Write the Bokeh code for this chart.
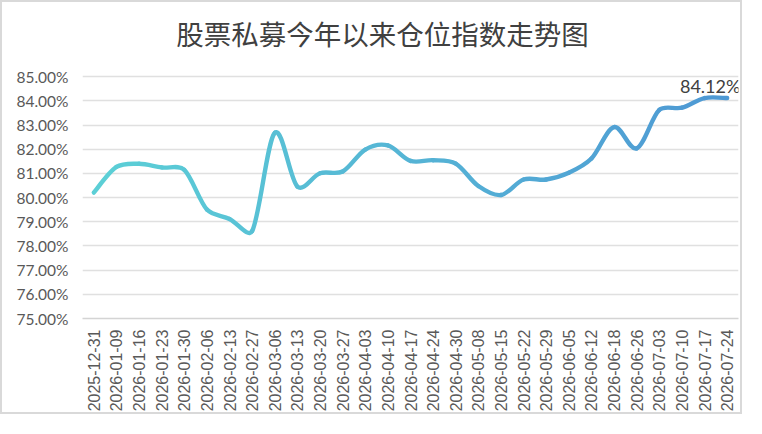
import numpy as np
from bokeh.plotting import figure
from bokeh.models import FixedTicker, Label, Range1d
from bokeh.embed import file_html
from bokeh.resources import INLINE

# ---------------- data ----------------
title_text = "股票私募今年以来仓位指数走势图"
dates = [
    "2025-12-31", "2026-01-09", "2026-01-16", "2026-01-23", "2026-01-30",
    "2026-02-06", "2026-02-13", "2026-02-27", "2026-03-06", "2026-03-13",
    "2026-03-20", "2026-03-27", "2026-04-03", "2026-04-10", "2026-04-17",
    "2026-04-24", "2026-04-30", "2026-05-08", "2026-05-15", "2026-05-22",
    "2026-05-29", "2026-06-05", "2026-06-12", "2026-06-18", "2026-06-26",
    "2026-07-03", "2026-07-10", "2026-07-17", "2026-07-24",
]
position_index = [
    80.21, 81.27, 81.40, 81.25, 81.15,
    79.51, 79.12, 78.62, 82.68, 80.46,
    81.01, 81.08, 81.99, 82.16, 81.52,
    81.55, 81.41, 80.48, 80.11, 80.75,
    80.75, 81.03, 81.62, 82.92, 82.04,
    83.63, 83.72, 84.12, 84.12,
]
y_ticks = [75, 76, 77, 78, 79, 80, 81, 82, 83, 84, 85]
y_tick_labels = ["%.2f%%" % v for v in y_ticks]

# ---------------- layout ----------------
n = len(dates)
FRAME_W = 656
FRAME_H = 306
PX_PER_PCT = 24.17
PX_PER_CAT = FRAME_W / n
y_top = 75 + FRAME_H / PX_PER_PCT

p = figure(
    width=742, height=414,
    x_range=Range1d(-0.5, n - 0.5), y_range=Range1d(75, y_top),
    output_backend="svg", toolbar_location=None,
    min_border_left=80, min_border_right=6,
    min_border_top=10, min_border_bottom=98,
)
p.styles = {"border": "2px solid #D9D9D9"}
p.outline_line_color = None
p.background_fill_color = "white"
p.border_fill_color = "white"

# smoothed line (Excel-like bezier smoothing, computed in screen proportions)
xs = np.arange(n, dtype=float)
ys = np.array(position_index, dtype=float)
sx = xs * PX_PER_CAT
sy = ys * PX_PER_PCT
PX = np.concatenate([[sx[0]], sx, [sx[-1]]])
PY = np.concatenate([[sy[0]], sy, [sy[-1]]])
tx = PX[2:] - PX[:-2]
ty = PY[2:] - PY[:-2]
tn = np.hypot(tx, ty)
ux, uy = tx / tn, ty / tn
seg = np.hypot(np.diff(sx), np.diff(sy))
arm0 = np.minimum(seg / 3.0, tn[:-1] / 6.0)
arm1 = np.minimum(seg / 3.0, tn[1:] / 6.0)
cx0 = (sx[:-1] + ux[:-1] * arm0) / PX_PER_CAT
cy0 = (sy[:-1] + uy[:-1] * arm0) / PX_PER_PCT
cx1 = (sx[1:] - ux[1:] * arm1) / PX_PER_CAT
cy1 = (sy[1:] - uy[1:] * arm1) / PX_PER_PCT
x0, y0 = xs[:-1], ys[:-1]
x1, y1 = xs[1:], ys[1:]

c_start = np.array([92, 208, 214])
c_end = np.array([78, 152, 212])
colors = []
for i in range(n - 1):
    t = ((x0[i] + x1[i]) / 2.0) / (n - 1)
    c = (c_start + (c_end - c_start) * t).round().astype(int)
    colors.append("#%02x%02x%02x" % tuple(c))

p.bezier(x0=x0, y0=y0, x1=x1, y1=y1, cx0=cx0, cy0=cy0, cx1=cx1, cy1=cy1,
         line_color=colors, line_width=4.4, line_cap="round")

# last value label
p.add_layout(Label(x=xs[-1], y=ys[-1], text="%.2f%%" % ys[-1],
                   x_offset=-17, y_offset=12, text_align="center",
                   text_baseline="alphabetic", text_font="Lato",
                   text_font_size="18px", text_color="#404040"))

# title
p.add_layout(Label(x=12.76, y=86.82, text=title_text, text_align="center",
                   text_baseline="middle", text_font="Noto Sans CJK SC",
                   text_font_size="27.5px", text_color="#404040"))

# axes
p.xaxis.ticker = FixedTicker(ticks=list(range(n)))
p.xaxis.major_label_overrides = {i: d for i, d in enumerate(dates)}
p.xaxis.major_label_orientation = np.pi / 2
p.xaxis.major_label_text_font = "Liberation Sans"
p.xaxis.major_label_text_font_size = "16px"
p.xaxis.major_label_text_color = "#595959"
p.xaxis.major_label_standoff = 11
p.xaxis.axis_line_color = "#D4D4D4"
p.xaxis.axis_line_width = 1.6
p.xaxis.major_tick_line_color = None
p.xaxis.minor_tick_line_color = None
p.xaxis.major_tick_out = 0
p.xaxis.major_tick_in = 0

p.yaxis.ticker = FixedTicker(ticks=y_ticks)
p.yaxis.major_label_overrides = {v: l for v, l in zip(y_ticks, y_tick_labels)}
p.yaxis.major_label_text_font = "Lato"
p.yaxis.major_label_text_font_size = "15.5px"
p.yaxis.major_label_text_color = "#595959"
p.yaxis.major_label_standoff = 14
p.yaxis.axis_line_color = None
p.yaxis.major_tick_line_color = None
p.yaxis.minor_tick_line_color = None
p.yaxis.major_tick_out = 0
p.yaxis.major_tick_in = 0

p.xgrid.grid_line_color = None
p.ygrid.ticker = FixedTicker(ticks=y_ticks)
p.ygrid.grid_line_color = "#E0E0E0"
p.ygrid.grid_line_width = 1.3

open("out.html", "w").write(file_html(p, INLINE))
